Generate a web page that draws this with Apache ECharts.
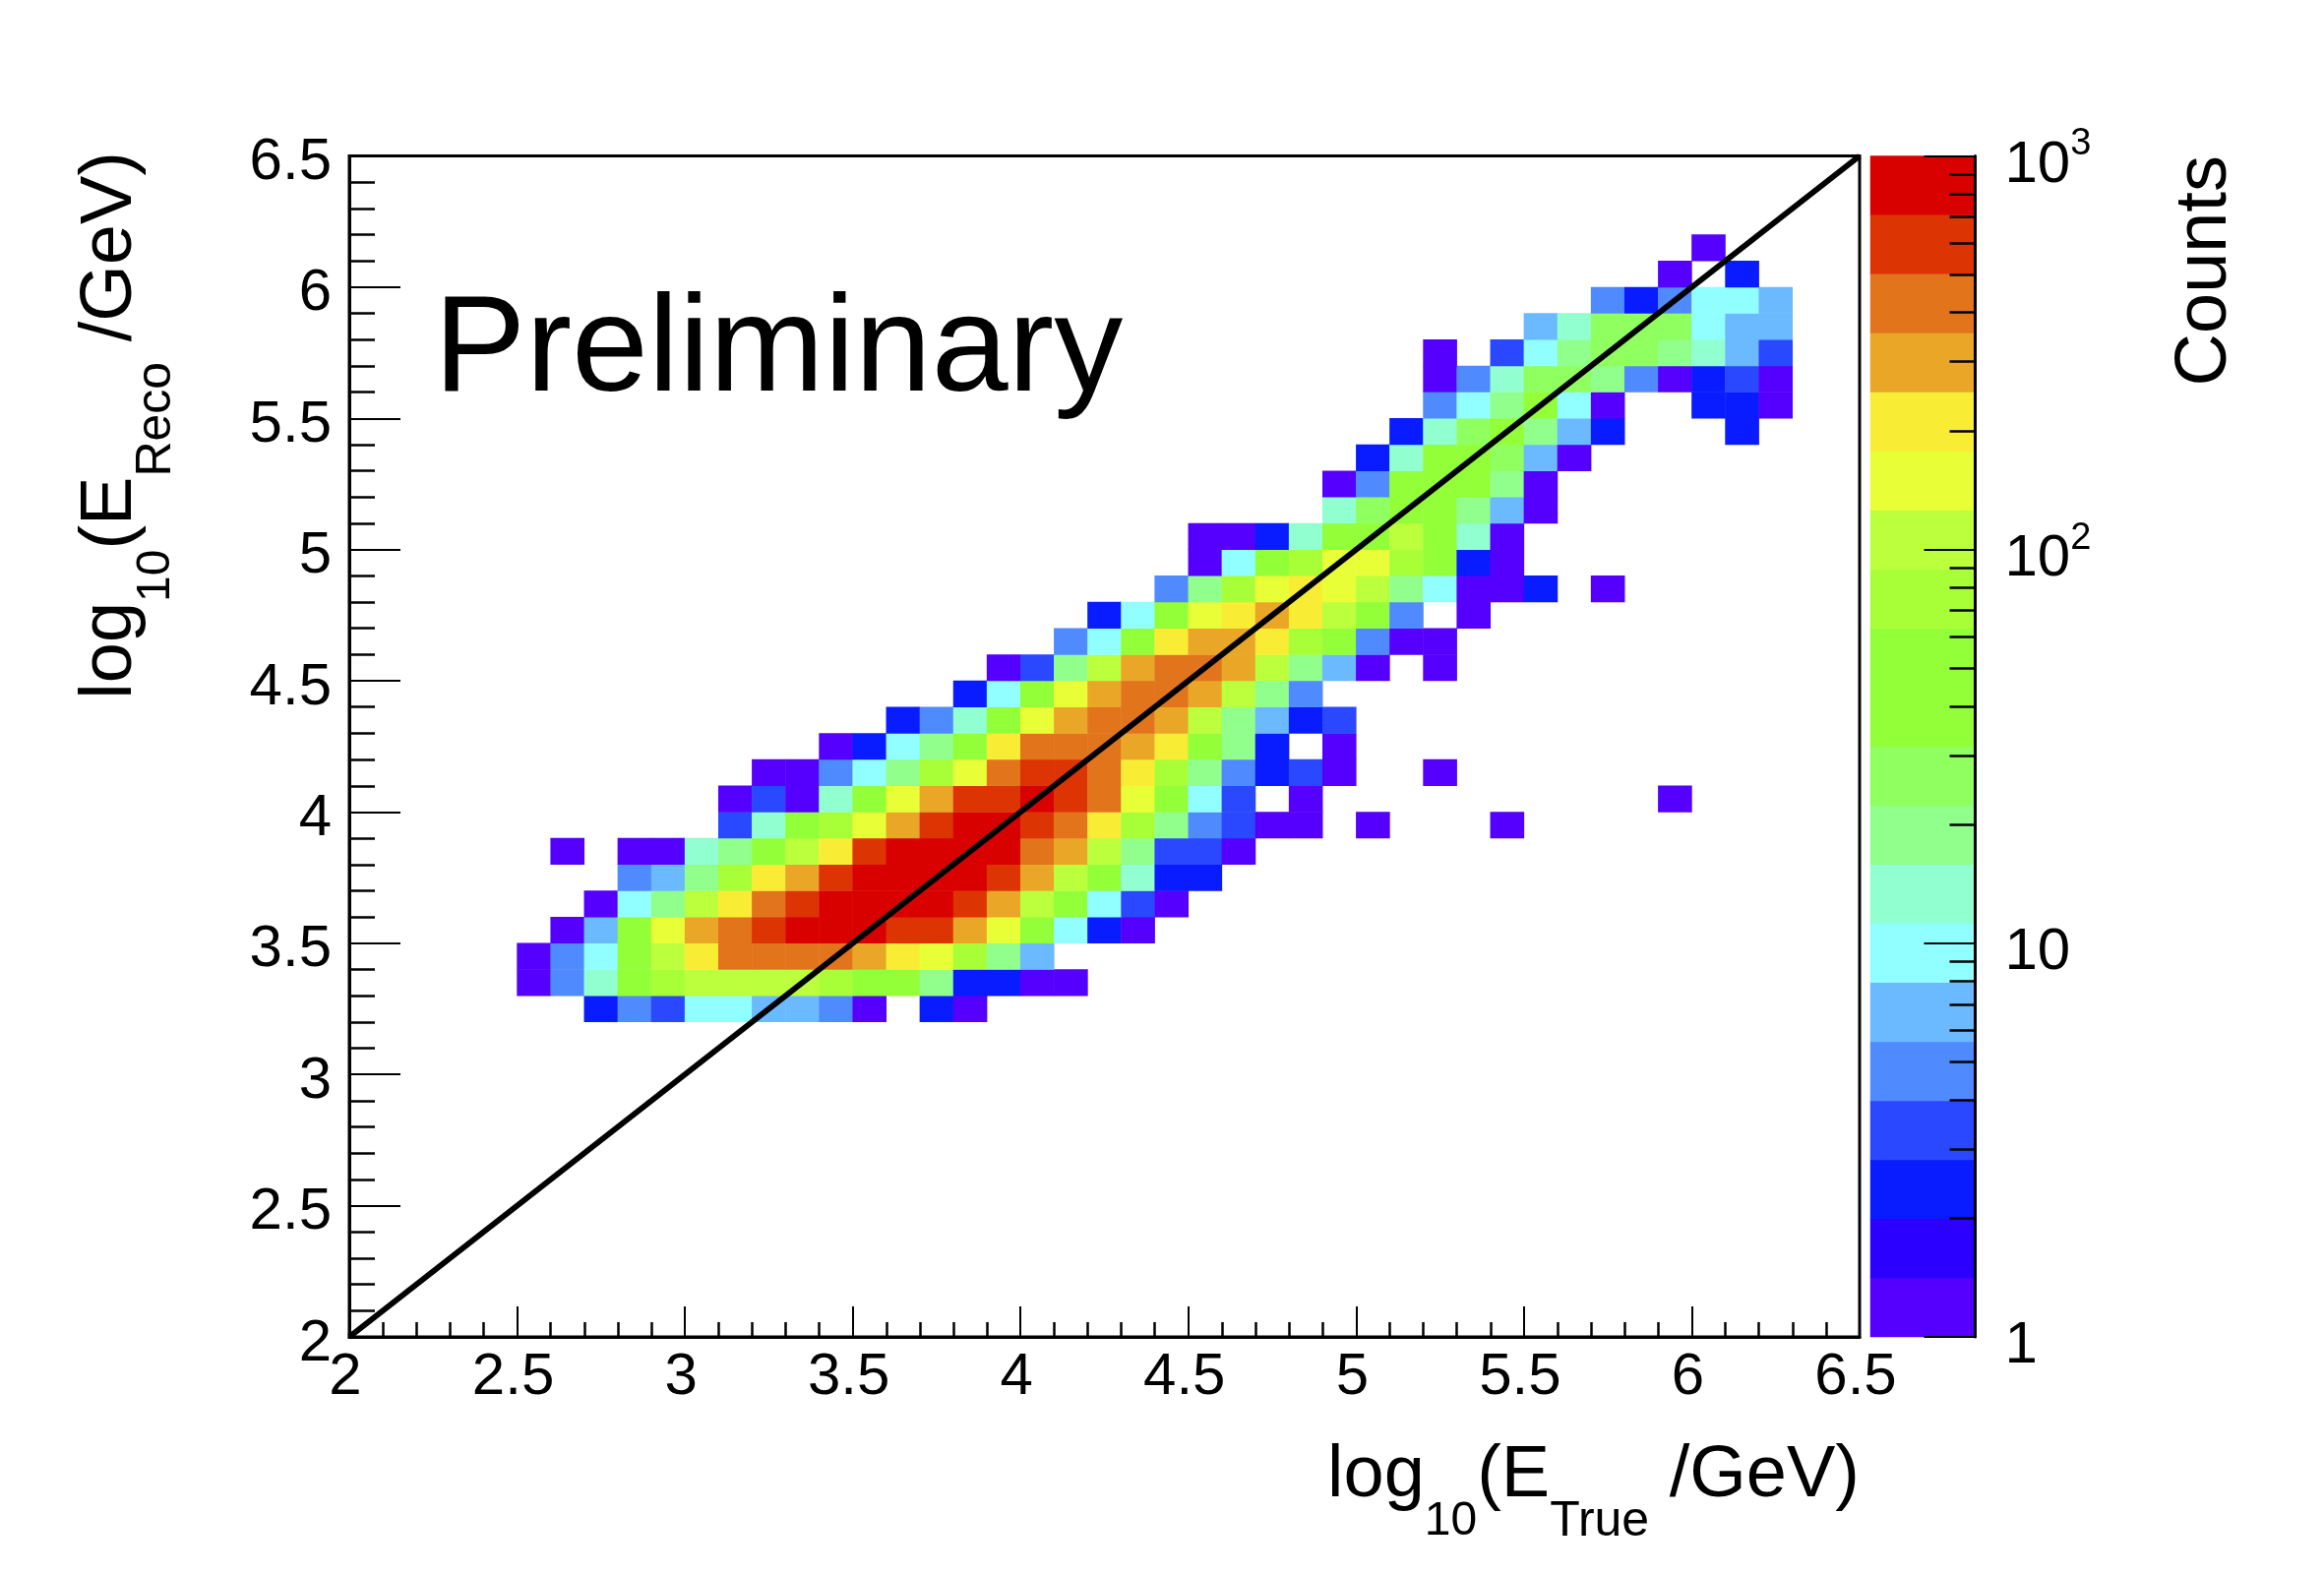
<!DOCTYPE html>
<html>
<head>
<meta charset="utf-8">
<title>E reco vs E true</title>
<script src="https://cdn.jsdelivr.net/npm/echarts@6/dist/echarts.min.js"></script>
<style>
    html, body { margin: 0; padding: 0; background: #fff; }
    #estrutura { width: 2362px; height: 1600px; }
</style>
</head>
<body>
<div id="estrutura"></div>
<script>
// bin low edges, log10(E/GeV)
var bins = [2.0, 2.1, 2.2, 2.3, 2.4, 2.5, 2.6, 2.7, 2.8, 2.9, 3.0, 3.1, 3.2, 3.3, 3.4, 3.5, 3.6, 3.7, 3.8, 3.9, 4.0, 4.1, 4.2, 4.3, 4.4, 4.5, 4.6, 4.7, 4.8, 4.9, 5.0, 5.1, 5.2, 5.3, 5.4, 5.5, 5.6, 5.7, 5.8, 5.9, 6.0, 6.1, 6.2, 6.3, 6.4];

// counts per reco row, first entry is the true bin 2.5
var reco32 = [0, 0, 2, 5, 3, 10, 10, 7, 7, 5, 1, 0, 2, 1];
var reco33 = [1, 5, 13, 38, 75, 106, 106, 106, 106, 75, 38, 38, 19, 2, 2, 1, 1];
var reco34 = [1, 5, 10, 38, 106, 211, 422, 422, 422, 422, 300, 211, 150, 75, 19, 7];
var reco35 = [0, 1, 7, 38, 150, 300, 422, 596, 841, 841, 841, 596, 596, 300, 150, 38, 10, 2, 1];
var reco36 = [0, 0, 1, 10, 19, 106, 211, 422, 596, 841, 841, 841, 841, 596, 300, 106, 38, 10, 3, 1];
var reco37 = [0, 0, 0, 5, 7, 19, 75, 211, 300, 596, 841, 841, 841, 841, 596, 300, 106, 38, 13, 2, 2];
var reco38 = [0, 1, 0, 1, 1, 13, 19, 38, 106, 211, 596, 841, 841, 841, 841, 422, 300, 106, 19, 3, 3, 1];
var reco39 = [0, 0, 0, 0, 0, 0, 3, 13, 38, 75, 150, 300, 596, 841, 841, 596, 422, 211, 75, 19, 5, 3, 1, 1, 0, 1, 0, 0, 0, 1];
var reco40 = [0, 0, 0, 0, 0, 0, 1, 3, 1, 13, 38, 150, 300, 596, 596, 841, 596, 422, 150, 38, 10, 3, 0, 1, 0, 0, 0, 0, 0, 0, 0, 0, 0, 0, 1];
var reco41 = [0, 0, 0, 0, 0, 0, 0, 1, 1, 5, 10, 19, 75, 150, 422, 596, 596, 422, 211, 75, 19, 5, 2, 3, 1, 0, 0, 1];
var reco42 = [0, 0, 0, 0, 0, 0, 0, 0, 0, 1, 2, 10, 19, 38, 211, 422, 422, 422, 300, 211, 38, 19, 2, 0, 1];
var reco43 = [0, 0, 0, 0, 0, 0, 0, 0, 0, 0, 0, 2, 5, 13, 38, 150, 300, 422, 422, 300, 106, 19, 7, 2, 3];
var reco44 = [0, 0, 0, 0, 0, 0, 0, 0, 0, 0, 0, 0, 0, 2, 10, 38, 150, 300, 422, 422, 300, 106, 19, 5];
var reco45 = [0, 0, 0, 0, 0, 0, 0, 0, 0, 0, 0, 0, 0, 0, 1, 3, 19, 106, 300, 422, 422, 300, 106, 19, 7, 1, 0, 1];
var reco46 = [0, 0, 0, 0, 0, 0, 0, 0, 0, 0, 0, 0, 0, 0, 0, 0, 5, 10, 38, 211, 300, 300, 211, 75, 38, 5, 1, 1];
var reco47 = [0, 0, 0, 0, 0, 0, 0, 0, 0, 0, 0, 0, 0, 0, 0, 0, 0, 2, 10, 38, 150, 211, 300, 211, 106, 38, 5, 0, 1];
var reco48 = [0, 0, 0, 0, 0, 0, 0, 0, 0, 0, 0, 0, 0, 0, 0, 0, 0, 0, 0, 5, 19, 75, 150, 211, 150, 106, 19, 10, 1, 1, 2, 0, 1];
var reco49 = [0, 0, 0, 0, 0, 0, 0, 0, 0, 0, 0, 0, 0, 0, 0, 0, 0, 0, 0, 0, 1, 10, 38, 75, 150, 150, 75, 38, 2, 1];
var reco50 = [0, 0, 0, 0, 0, 0, 0, 0, 0, 0, 0, 0, 0, 0, 0, 0, 0, 0, 0, 0, 1, 1, 2, 13, 38, 53, 106, 38, 13, 1];
var reco51 = [0, 0, 0, 0, 0, 0, 0, 0, 0, 0, 0, 0, 0, 0, 0, 0, 0, 0, 0, 0, 0, 0, 0, 0, 13, 27, 38, 38, 19, 7, 1];
var reco52 = [0, 0, 0, 0, 0, 0, 0, 0, 0, 0, 0, 0, 0, 0, 0, 0, 0, 0, 0, 0, 0, 0, 0, 0, 1, 5, 38, 38, 38, 19, 1];
var reco53 = [0, 0, 0, 0, 0, 0, 0, 0, 0, 0, 0, 0, 0, 0, 0, 0, 0, 0, 0, 0, 0, 0, 0, 0, 0, 2, 13, 38, 38, 27, 7, 1];
var reco54 = [0, 0, 0, 0, 0, 0, 0, 0, 0, 0, 0, 0, 0, 0, 0, 0, 0, 0, 0, 0, 0, 0, 0, 0, 0, 0, 2, 13, 27, 38, 19, 7, 2, 0, 0, 0, 2];
var reco55 = [0, 0, 0, 0, 0, 0, 0, 0, 0, 0, 0, 0, 0, 0, 0, 0, 0, 0, 0, 0, 0, 0, 0, 0, 0, 0, 0, 5, 10, 19, 38, 10, 1, 0, 0, 2, 2, 1];
var reco56 = [0, 0, 0, 0, 0, 0, 0, 0, 0, 0, 0, 0, 0, 0, 0, 0, 0, 0, 0, 0, 0, 0, 0, 0, 0, 0, 0, 1, 5, 13, 27, 27, 19, 5, 1, 2, 3, 1];
var reco57 = [0, 0, 0, 0, 0, 0, 0, 0, 0, 0, 0, 0, 0, 0, 0, 0, 0, 0, 0, 0, 0, 0, 0, 0, 0, 0, 0, 1, 0, 3, 10, 19, 27, 27, 19, 13, 7, 3];
var reco58 = [0, 0, 0, 0, 0, 0, 0, 0, 0, 0, 0, 0, 0, 0, 0, 0, 0, 0, 0, 0, 0, 0, 0, 0, 0, 0, 0, 0, 0, 0, 7, 13, 27, 27, 27, 10, 7, 7];
var reco59 = [0, 0, 0, 0, 0, 0, 0, 0, 0, 0, 0, 0, 0, 0, 0, 0, 0, 0, 0, 0, 0, 0, 0, 0, 0, 0, 0, 0, 0, 0, 0, 0, 5, 2, 5, 10, 10, 7];
var reco60 = [0, 0, 0, 0, 0, 0, 0, 0, 0, 0, 0, 0, 0, 0, 0, 0, 0, 0, 0, 0, 0, 0, 0, 0, 0, 0, 0, 0, 0, 0, 0, 0, 0, 0, 1, 0, 2];
var reco61 = [0, 0, 0, 0, 0, 0, 0, 0, 0, 0, 0, 0, 0, 0, 0, 0, 0, 0, 0, 0, 0, 0, 0, 0, 0, 0, 0, 0, 0, 0, 0, 0, 0, 0, 0, 1];

var recoRows = [reco32, reco33, reco34, reco35, reco36, reco37, reco38, reco39, reco40, reco41,
    reco42, reco43, reco44, reco45, reco46, reco47, reco48, reco49, reco50, reco51,
    reco52, reco53, reco54, reco55, reco56, reco57, reco58, reco59, reco60, reco61];

var diagonal = [[2, 2], [6.5, 6.5]];

// colour scale
var levelEdges = [1, 1.41, 2, 2.82, 3.98, 5.62, 7.94, 11.2, 15.8, 22.4, 31.6, 44.7, 63.1, 89.1, 126, 178, 251, 355, 501, 708, 1001];
var levelCounts = [1, 1.7, 2, 3, 5, 7, 10, 13, 19, 27, 38, 53, 75, 106, 150, 211, 300, 422, 596, 841];
var levelColors = ['#5500ff', '#2b00ff', '#081cff', '#2a48ff', '#4f8aff', '#6bb9ff', '#91ffff', '#91ffcf', '#91ff8c', '#90ff60',
    '#92ff38', '#92ff38', '#a8ff38', '#bcff3c', '#e8ff38', '#f9ec35', '#e9a627', '#e2751c', '#dc3403', '#d90000'];

var fonte = '"Liberation Sans", Arial, sans-serif';

var heat = [];
recoRows.forEach(function (row, r) {
    row.forEach(function (v, k) {
        if (v > 0) {
            heat.push([k + 5, r + 12, v]);
        }
    });
});

var barra = levelCounts.map(function (v, i) { return [0, i, v]; });

var pecas = levelColors.map(function (c, i) {
    return { gte: levelEdges[i], lt: levelEdges[i + 1], color: c };
});

function eixoValor(pos, major, minor) {
    var rotulo = {
        show: true,
        color: '#000',
        fontFamily: fonte,
        fontSize: 60,
        showMinLabel: true,
        showMaxLabel: true
    };
    if (pos == 'bottom') {
        rotulo.margin = 11;
        rotulo.padding = [0, 8, 0, 0];
    } else {
        // labels sit a little under their tick
        rotulo.margin = 18;
        rotulo.formatter = '{v|{value}}';
        rotulo.rich = { v: { fontFamily: fonte, fontSize: 60, color: '#000', lineHeight: 74, height: 60, verticalAlign: 'bottom' } };
    }
    return {
        type: 'value',
        position: pos,
        gridIndex: 0,
        min: 2,
        max: 6.5,
        interval: 0.5,
        axisLine: { show: true, onZero: false, lineStyle: { color: '#000', width: 3 } },
        axisTick: { show: true, inside: true, length: major, lineStyle: { color: '#000', width: 2 } },
        minorTick: { show: true, splitNumber: 5, length: minor, lineStyle: { color: '#000', width: 2.5 } },
        splitLine: { show: false },
        axisLabel: rotulo
    };
}

var ricoTitulo = {
    m: { fontFamily: fonte, fontSize: 74, color: '#000', height: 74, lineHeight: 107, verticalAlign: 'top' },
    s: { fontFamily: fonte, fontSize: 48, color: '#000', height: 48, lineHeight: 48, verticalAlign: 'bottom' },
    t: { fontFamily: fonte, fontSize: 50, color: '#000', height: 48, lineHeight: 48, verticalAlign: 'bottom' }
};

var option = {
    animation: false,
    backgroundColor: '#fff',
    grid: [
        { left: 355, top: 158.5, width: 1535, height: 1200.5, show: true, borderColor: '#000', borderWidth: 3, backgroundColor: 'transparent', containLabel: false },
        { left: 1901, top: 158.5, width: 106.5, height: 1200.5, show: false, containLabel: false }
    ],
    xAxis: [
        { type: 'category', gridIndex: 0, data: bins, show: false },
        eixoValor('bottom', 31, 15),
        { type: 'category', gridIndex: 1, data: ['Counts'], show: false }
    ],
    yAxis: [
        { type: 'category', gridIndex: 0, data: bins, show: false },
        eixoValor('left', 52, 26),
        { type: 'category', gridIndex: 1, data: levelCounts, show: false },
        {
            type: 'log',
            logBase: 10,
            gridIndex: 1,
            position: 'right',
            z: 6,
            min: 1,
            max: 1000,
            axisLine: { show: true, onZero: false, lineStyle: { color: '#000', width: 3 } },
            axisTick: { show: true, inside: true, length: 52, lineStyle: { color: '#000', width: 2 } },
            minorTick: { show: true, splitNumber: 9, length: 26, lineStyle: { color: '#000', width: 2.5 } },
            splitLine: { show: false },
            axisLabel: {
                show: true,
                color: '#000',
                fontFamily: fonte,
                fontSize: 60,
                margin: 30,
                showMinLabel: true,
                showMaxLabel: true,
                formatter: function (v) {
                    if (v >= 100) {
                        return '{n|10}{e|' + Math.round(Math.log10(v)) + '}';
                    }
                    return '{n|' + Math.round(v) + '}';
                },
                rich: {
                    n: { fontFamily: fonte, fontSize: 60, color: '#000', height: 60, lineHeight: 79, verticalAlign: 'bottom' },
                    e: { fontFamily: fonte, fontSize: 38, color: '#000', height: 38, lineHeight: 38, verticalAlign: 'top', padding: [9, 0, 0, 0] }
                }
            }
        }
    ],
    visualMap: {
        show: false,
        type: 'piecewise',
        dimension: 2,
        seriesIndex: [0, 1],
        pieces: pecas
    },
    series: [
        {
            name: 'Counts',
            type: 'heatmap',
            xAxisIndex: 0,
            yAxisIndex: 0,
            data: heat,
            silent: true
        },
        {
            name: 'scale',
            type: 'heatmap',
            xAxisIndex: 2,
            yAxisIndex: 2,
            data: barra,
            silent: true
        },
        {
            name: 'E reco = E true',
            type: 'line',
            xAxisIndex: 1,
            yAxisIndex: 1,
            data: diagonal,
            showSymbol: false,
            silent: true,
            z: 10,
            lineStyle: { color: '#000', width: 6 }
        }
    ],
    graphic: [
        {
            type: 'text',
            x: 441,
            y: 288,
            style: { text: 'Preliminary', fontFamily: fonte, fontSize: 140, fill: '#000', verticalAlign: 'alphabetic' }
        },
        {
            type: 'text',
            x: 2205,
            y: 158,
            rotation: Math.PI / 2,
            originX: 0,
            originY: 0,
            style: { text: 'Counts', fontFamily: fonte, fontSize: 74, fill: '#000', align: 'right', verticalAlign: 'alphabetic' }
        },
        {
            type: 'text',
            x: 1890,
            y: 1464,
            style: { text: '{m|log}{s|10}{m|(E}{t|True}{m| /GeV)}', rich: ricoTitulo, align: 'right', verticalAlign: 'top' }
        },
        {
            type: 'text',
            x: 76,
            y: 154,
            rotation: Math.PI / 2,
            style: { text: '{m|log}{s|10}{m|(E}{t|Reco}{m| /GeV)}', rich: ricoTitulo, align: 'right', verticalAlign: 'top' }
        }
    ]
};

var chartDom = document.getElementById('estrutura');
var myChart = echarts.init(chartDom, null, { renderer: 'canvas', devicePixelRatio: 1 });
option && myChart.setOption(option);
</script>
</body>
</html>
